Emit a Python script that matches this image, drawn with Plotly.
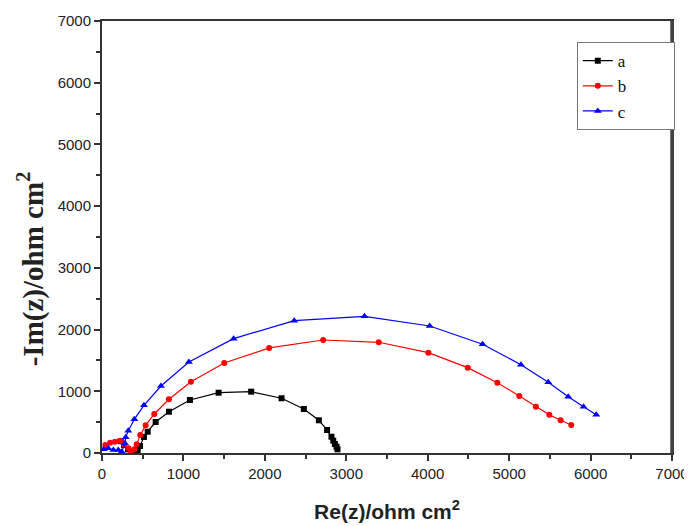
import plotly.graph_objects as go

a_re = [230, 270, 320, 370, 405, 438, 466, 515, 561, 659, 822, 1080, 1432, 1832, 2205, 2479, 2663, 2764, 2818, 2840, 2860, 2880, 2892]
a_im = [190, 130, 60, 20, 8, 49, 113, 259, 345, 502, 669, 859, 977, 994, 887, 713, 530, 373, 264, 200, 146, 102, 60]

b_re = [40, 100, 160, 221, 270, 323, 356, 397, 426, 470, 536, 642, 822, 1092, 1501, 2053, 2716, 3399, 4008, 4491, 4855, 5125, 5329, 5493, 5632, 5763]
b_im = [130, 167, 183, 199, 140, 76, 21, 60, 140, 290, 449, 632, 870, 1156, 1459, 1702, 1831, 1794, 1626, 1383, 1140, 924, 751, 621, 530, 454]

c_re = [20, 77, 139, 200, 242, 282, 291, 323, 397, 515, 724, 1067, 1616, 2360, 3223, 4025, 4675, 5145, 5481, 5726, 5914, 6070]
c_im = [60, 76, 49, 49, 21, 157, 254, 361, 546, 773, 1086, 1475, 1853, 2144, 2215, 2058, 1762, 1431, 1146, 913, 751, 621]

names = ["a", "b", "c"]
colors = ["#000000", "#ff0000", "#0000ff"]
symbols = ["square", "circle", "triangle-up"]
sizes = [6, 6, 7]

fig = go.Figure()
for nm, xs, ys, col, sym, sz in zip(names, [a_re, b_re, c_re], [a_im, b_im, c_im], colors, symbols, sizes):
    fig.add_trace(go.Scatter(x=xs, y=ys, name=nm + "\u2003\u2003\u2002", mode="lines+markers",
                             line=dict(color=col, width=1.2),
                             marker=dict(symbol=sym, size=sz, color=col)))

axis_common = dict(showgrid=False, zeroline=False, showline=True, linecolor="#333333",
                   linewidth=2, mirror=True, ticks="outside", ticklen=6, tickwidth=1.5,
                   tickcolor="#333333", tickfont=dict(family="Arial", size=15, color="#222222"),
                   automargin=False,
                   minor=dict(ticks="outside", ticklen=4, tickwidth=1.5, tickcolor="#333333", dtick=500))

fig.update_xaxes(range=[0, 7000], dtick=1000, **axis_common,
                 title=dict(text="<b>Re(z)/ohm cm<sup>2</sup></b>", font=dict(family="Arial", size=21, color="#222222"), standoff=23))
fig.update_yaxes(range=[0, 7000], dtick=1000, **axis_common)

fig.add_annotation(text="<b>-Im(z)/ohm cm<sup>2</sup></b>", textangle=-90,
                   xref="paper", yref="paper", x=-0.124, y=0.426, xanchor="center", yanchor="middle",
                   showarrow=False, font=dict(family="Liberation Serif", size=29, color="#222222"))

fig.add_shape(type="line", xref="paper", yref="paper", x0=1, x1=1, y0=0, y1=1,
              line=dict(color="#444444", width=3.5))

fig.update_layout(width=684, height=518, plot_bgcolor="white", paper_bgcolor="white",
                  margin=dict(l=94, r=20, t=13, b=73),
                  legend=dict(x=0.833, y=0.951, xanchor="left", yanchor="top",
                              bordercolor="#777777", borderwidth=1, bgcolor="white",
                              font=dict(family="Liberation Serif", size=17, color="#111111"),
                              tracegroupgap=0, itemwidth=30))

fig.write_html("out.html")
